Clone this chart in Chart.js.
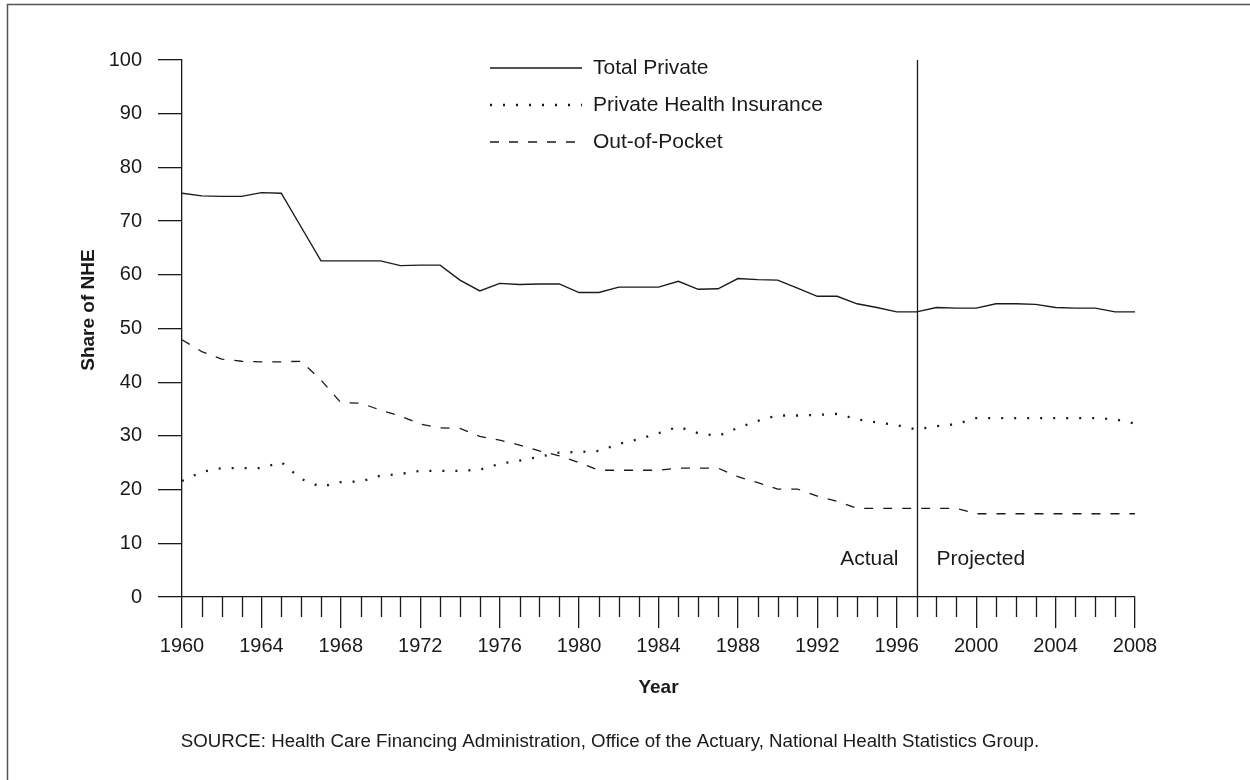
<!DOCTYPE html>
<html>
<head>
<meta charset="utf-8">
<title>Share of NHE</title>
<script src="https://cdn.jsdelivr.net/npm/chart.js@4.4.1/dist/chart.umd.min.js"></script>
<style>
  html, body { margin: 0; padding: 0; background: #fff; }
  #wrap { width: 1250px; height: 780px; }
</style>
</head>
<body>
<div id="wrap"><canvas id="chart" width="1250" height="780"></canvas></div>
<script>
/* ─── DATA ───────────────────────────────────────────── */
const years = [
  1960, 1961, 1962, 1963, 1964, 1965, 1966, 1967, 1968, 1969,
  1970, 1971, 1972, 1973, 1974, 1975, 1976, 1977, 1978, 1979,
  1980, 1981, 1982, 1983, 1984, 1985, 1986, 1987, 1988, 1989,
  1990, 1991, 1992, 1993, 1994, 1995, 1996, 1997, 1998, 1999,
  2000, 2001, 2002, 2003, 2004, 2005, 2006, 2007, 2008
];

const totalPrivate = [
  75.2, 74.7, 74.6, 74.6, 75.3, 75.2, 68.9, 62.6, 62.6, 62.6,
  62.6, 61.7, 61.8, 61.8, 59.0, 57.0, 58.4, 58.2, 58.3, 58.3,
  56.7, 56.7, 57.7, 57.7, 57.7, 58.8, 57.3, 57.4, 59.3, 59.1,
  59.0, 57.5, 56.0, 56.0, 54.6, 53.9, 53.1, 53.1, 53.9, 53.8,
  53.8, 54.6, 54.6, 54.5, 53.9, 53.8, 53.8, 53.1, 53.1
];

const privateInsurance = [
  21.6, 23.3, 24.0, 24.0, 24.0, 25.1, 22.0, 20.5, 21.4, 21.5,
  22.6, 22.9, 23.5, 23.5, 23.5, 23.7, 24.8, 25.4, 26.1, 26.9,
  27.0, 27.2, 28.5, 29.4, 30.5, 31.7, 30.5, 30.0, 31.5, 32.8,
  33.8, 33.8, 33.9, 34.1, 33.1, 32.5, 32.0, 31.2, 31.8, 32.2,
  33.3, 33.3, 33.3, 33.3, 33.3, 33.3, 33.3, 33.1, 32.3
];

const outOfPocket = [
  47.9, 45.7, 44.3, 43.9, 43.8, 43.8, 43.9, 40.4, 36.2, 36.1,
  34.8, 33.7, 32.2, 31.5, 31.4, 29.9, 29.2, 28.3, 27.2, 26.3,
  25.0, 23.6, 23.6, 23.6, 23.6, 24.0, 24.0, 24.0, 22.4, 21.3,
  20.1, 20.1, 18.8, 17.8, 16.5, 16.5, 16.5, 16.5, 16.5, 16.5,
  15.5, 15.5, 15.5, 15.5, 15.5, 15.5, 15.5, 15.5, 15.5
];

const seriesNames = ["Total Private", "Private Health Insurance", "Out-of-Pocket"];
const splitYear   = 1997;
const splitLabels = ["Actual", "Projected"];
const sourceText  = "SOURCE: Health Care Financing Administration, Office of the Actuary, National Health Statistics Group.";

/* ─── STYLE ──────────────────────────────────────────── */
const INK  = "#1a1a1a";
const FONT = "'Liberation Sans', Arial, Helvetica, sans-serif";

const toPoints = vals => years.map((y, i) => ({ x: y, y: vals[i] }));

const lineStyles = [
  { borderWidth: 1.4, borderDash: [] },
  { borderWidth: 2.3, borderDash: [2, 11] },
  { borderWidth: 1.3, borderDash: [9, 10] },
];

/* ─── EXTRAS: minor ticks, divider, legend, source ───── */
const decor = {
  id: "decor",
  afterDraw(chart) {
    const { ctx, chartArea: area, scales: { x, y } } = chart;
    ctx.save();

    // frame (only top + left visible in the reference)
    ctx.strokeStyle = "#555";
    ctx.lineWidth = 1.5;
    ctx.beginPath();
    ctx.moveTo(7.5, 790);
    ctx.lineTo(7.5, 4.5);
    ctx.lineTo(1260, 4.5);
    ctx.stroke();

    // minor year ticks
    ctx.strokeStyle = INK;
    ctx.lineWidth = 1.3;
    ctx.beginPath();
    years.forEach(yr => {
      if (yr % 4 === 0) return;
      const px = Math.round(x.getPixelForValue(yr)) + 0.5;
      ctx.moveTo(px, area.bottom);
      ctx.lineTo(px, area.bottom + 20);
    });
    ctx.stroke();

    // actual / projected divider
    const sx = Math.round(x.getPixelForValue(splitYear)) + 0.5;
    ctx.beginPath();
    ctx.moveTo(sx, area.top);
    ctx.lineTo(sx, area.bottom);
    ctx.stroke();

    ctx.fillStyle = INK;
    ctx.font = `21px ${FONT}`;
    ctx.textBaseline = "middle";
    const ly = y.getPixelForValue(7);
    ctx.textAlign = "right";
    ctx.fillText(splitLabels[0], sx - 19, ly);
    ctx.textAlign = "left";
    ctx.fillText(splitLabels[1], sx + 19, ly);

    // legend
    const legX0 = 490, legX1 = 582, legY = [68, 105, 142];
    chart.data.datasets.forEach((ds, i) => {
      ctx.save();
      ctx.strokeStyle = ds.borderColor;
      ctx.lineWidth = ds.borderWidth;
      ctx.setLineDash(ds.borderDash);
      ctx.beginPath();
      ctx.moveTo(legX0, legY[i]);
      ctx.lineTo(legX1, legY[i]);
      ctx.stroke();
      ctx.restore();
      ctx.textAlign = "left";
      ctx.fillText(ds.label, 593, legY[i]);
    });

    // source note
    ctx.font = `18.7px ${FONT}`;
    ctx.textAlign = "center";
    ctx.fillText(sourceText, 610, 742);

    ctx.restore();
  }
};

/* ─── CHART ──────────────────────────────────────────── */
Chart.defaults.font.family = FONT;
Chart.defaults.color = INK;

new Chart(document.getElementById("chart"), {
  type: "line",
  data: {
    datasets: [totalPrivate, privateInsurance, outOfPocket].map((vals, i) => ({
      label: seriesNames[i],
      data: toPoints(vals),
      borderColor: INK,
      borderWidth: lineStyles[i].borderWidth,
      borderDash: lineStyles[i].borderDash,
      borderCapStyle: "butt",
      pointRadius: 0,
      tension: 0,
      fill: false,
    })),
  },
  options: {
    responsive: false,
    animation: false,
    devicePixelRatio: 1,
    layout: { padding: { top: 60, right: 115, bottom: 0, left: 0 } },
    plugins: {
      legend: { display: false },
      tooltip: { enabled: false },
    },
    scales: {
      x: {
        type: "linear",
        min: 1960,
        max: 2008,
        afterFit: s => { s.height = 183; },
        border: { display: true, color: INK, width: 1.3 },
        grid: { drawOnChartArea: false, drawTicks: true, tickLength: 31, color: INK, lineWidth: 1.3 },
        ticks: {
          stepSize: 4,
          padding: 6,
          maxRotation: 0,
          font: { size: 20 },
          callback: v => String(v),
        },
        title: {
          display: true,
          text: "Year",
          font: { size: 19, weight: "bold" },
          padding: { top: 0, bottom: 81 },
        },
      },
      y: {
        min: 0,
        max: 100,
        afterFit: s => { s.width = 182; },
        border: { display: true, color: INK, width: 1.3 },
        grid: { drawOnChartArea: false, drawTicks: true, tickLength: 24, color: INK, lineWidth: 1.3 },
        ticks: {
          stepSize: 10,
          padding: 16,
          font: { size: 20 },
        },
        title: {
          display: true,
          text: "       Share of NHE",
          font: { size: 19, weight: "bold" },
          padding: { top: 77, bottom: 0 },
        },
      },
    },
  },
  plugins: [decor],
});
</script>
</body>
</html>
